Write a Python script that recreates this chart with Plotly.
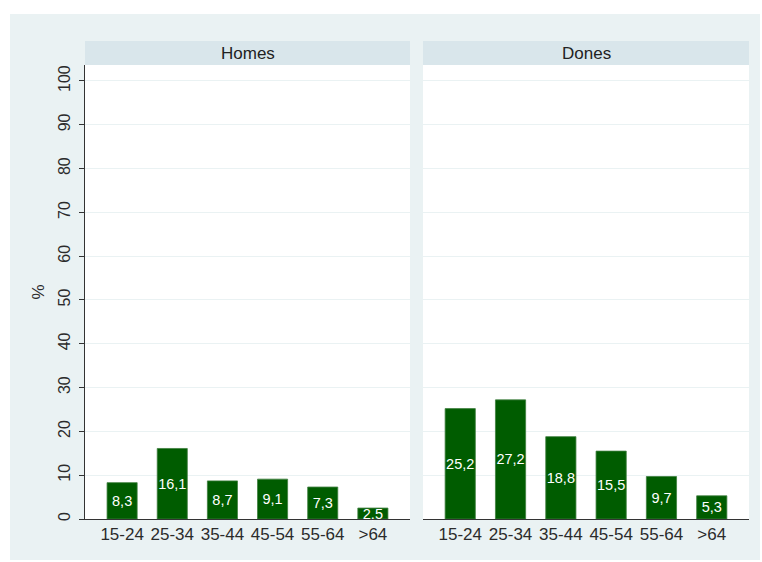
import plotly.graph_objects as go

categories = ["15-24", "25-34", "35-44", "45-54", "55-64", ">64"]
homes = [8.3, 16.1, 8.7, 9.1, 7.3, 2.5]
dones = [25.2, 27.2, 18.8, 15.5, 9.7, 5.3]
panel_titles = ["Homes", "Dones"]
y_ticks = list(range(0, 101, 10))

W, H = 762, 562
L, R, T, B = 85, 13, 65, 43
pw, ph = W - L - R, H - T - B

def px_x(x):
    return (x - L) / pw

def px_y(y):
    return (H - B - y) / ph

BAR = "#005C00"
BG = "#EAF2F3"
HDR = "#D9E6EB"
FONT = "Arial, Liberation Sans, sans-serif"
TXT = "#2b2b2b"

fig = go.Figure()
for i, vals in enumerate([homes, dones]):
    fig.add_trace(go.Bar(
        x=categories, y=vals,
        text=[f"{v:.1f}".replace(".", ",") for v in vals],
        textposition="inside", insidetextanchor="middle", textangle=0,
        insidetextfont=dict(color="white", size=14.5, family=FONT),
        marker=dict(color=BAR, line=dict(color="#3F7F3F", width=0.8)),
        width=0.6, showlegend=False,
        xaxis="x" if i == 0 else "x2", yaxis="y" if i == 0 else "y2",
        cliponaxis=False,
    ))

d1 = [0, px_x(410)]
d2 = [px_x(423), 1]

xcommon = dict(type="category", range=[-0.74, 5.74], showline=True, linecolor="#333333",
               linewidth=1, ticks="", showgrid=False, zeroline=False,
               tickfont=dict(size=17, color=TXT, family=FONT))
ycommon = dict(range=[0, 103.65], tickvals=y_ticks, showgrid=True, gridcolor=BG,
               gridwidth=1, zeroline=False)

fig.update_layout(
    width=W, height=H,
    margin=dict(l=L, r=R, t=T, b=B, pad=0),
    paper_bgcolor=BG, plot_bgcolor="white",
    font=dict(family=FONT, color=TXT),
    bargap=0.4,
    uniformtext=dict(minsize=14.5, mode="show"),
    xaxis=dict(domain=d1, anchor="y", **xcommon),
    xaxis2=dict(domain=d2, anchor="y2", **xcommon),
    yaxis=dict(domain=[0, 1], anchor="x", showline=True, linecolor="#333333", linewidth=1,
               ticks="outside", ticklen=5, tickcolor="#333333", tickangle=-90,
               ticklabelstandoff=3,
               tickfont=dict(size=16, color=TXT, family=FONT),
               title=dict(text="%", font=dict(size=17, color=TXT, family=FONT), standoff=6),
               **ycommon),
    yaxis2=dict(domain=[0, 1], anchor="x2", showline=False, ticks="", showticklabels=False,
                **ycommon),
)

shapes = [
    dict(type="rect", xref="paper", yref="paper", x0=px_x(0), x1=px_x(W), y0=px_y(14), y1=px_y(0),
         fillcolor="white", line=dict(width=0), layer="below"),
    dict(type="rect", xref="paper", yref="paper", x0=px_x(0), x1=px_x(10), y0=px_y(H), y1=px_y(0),
         fillcolor="white", line=dict(width=0), layer="below"),
    dict(type="rect", xref="paper", yref="paper", x0=px_x(760), x1=px_x(W), y0=px_y(H), y1=px_y(0),
         fillcolor="white", line=dict(width=0), layer="below"),
    dict(type="rect", xref="paper", yref="paper", x0=px_x(0), x1=px_x(W), y0=px_y(H), y1=px_y(560),
         fillcolor="white", line=dict(width=0), layer="below"),
]
annotations = []
for dom, title in zip([d1, d2], panel_titles):
    shapes.append(dict(type="rect", xref="paper", yref="paper", x0=dom[0], x1=dom[1],
                       y0=1, y1=px_y(41), fillcolor=HDR, line=dict(width=0)))
    annotations.append(dict(xref="paper", yref="paper", x=(dom[0] + dom[1]) / 2, y=px_y(53),
                            text=title, showarrow=False, xanchor="center", yanchor="middle",
                            font=dict(size=17, color="#222222", family=FONT)))
fig.update_layout(shapes=shapes, annotations=annotations)

fig.write_html("out.html", config={"displayModeBar": False},
               post_script="document.body.style.margin='0';")
